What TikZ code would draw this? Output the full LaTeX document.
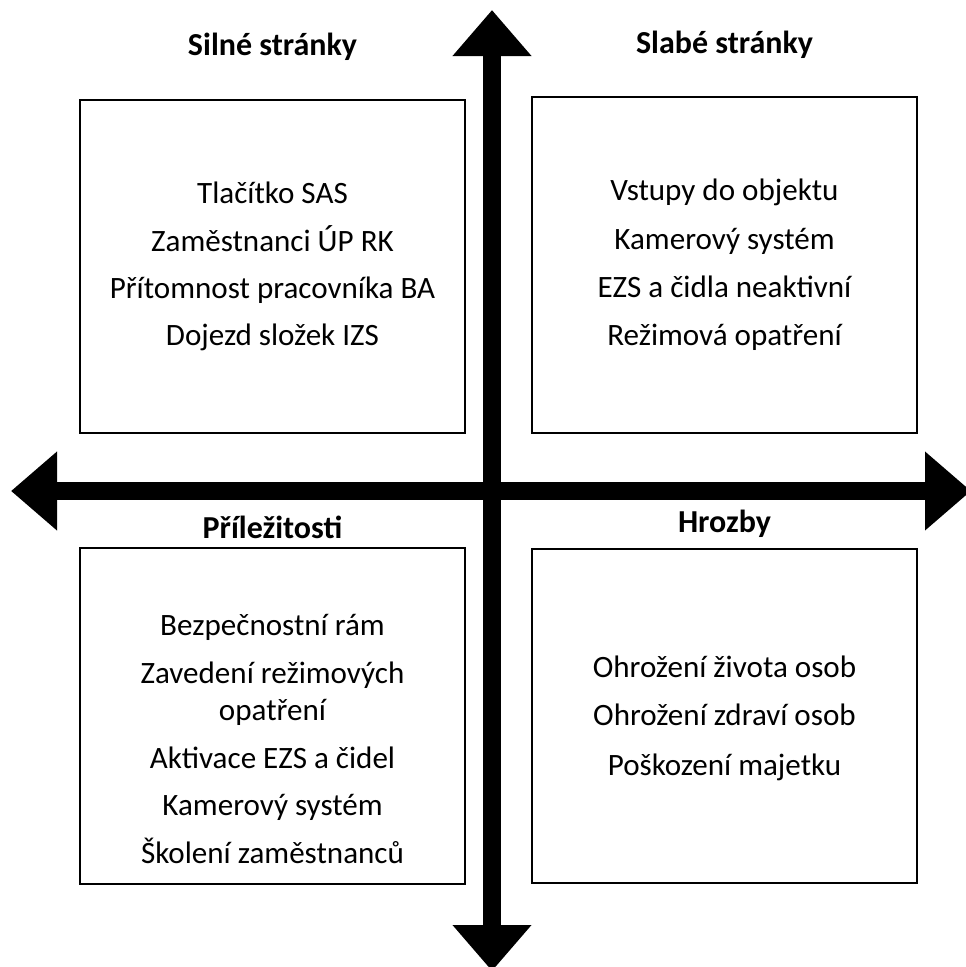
\documentclass[tikz,border=0pt]{standalone}
\usepackage{fontspec}
\setmainfont{Carlito}
\usetikzlibrary{arrows.meta}

\tikzset{
    quadbox/.style={draw, line width=2pt, inner sep=0pt, minimum width=288.75pt},
    head/.style={font=\fontsize{24}{28}\selectfont\bfseries, anchor=base, inner sep=0pt},
    item/.style={font=\fontsize{23.3}{28}\selectfont, anchor=base, inner sep=0pt},
    bigarrow/.style={line width=13.7pt, {Triangle[width=57pt,length=34.5pt]}-{Triangle[width=57pt,length=34.5pt]}}
}

\begin{document}
\begin{tikzpicture}[x=0.75pt,y=0.75pt,yscale=-1,xscale=1]
    \path[use as bounding box] (0,0) rectangle (965,967);

    %Axis end points
    \coordinate (ytop) at (492,10);
    \coordinate (ybot) at (492,971);
    \coordinate (xleft) at (11,491);
    \coordinate (xright) at (971,491);
    %Straight Lines
    \draw [bigarrow] (ytop) -- (ybot);
    \draw [bigarrow] (xleft) -- (xright);

    %Shape: Rectangle
    \node [quadbox, minimum height=249.75pt] (silne) at (272.5,266.5) {};
    %Shape: Rectangle
    \node [quadbox, minimum height=252pt] (slabe) at (724.5,265) {};
    %Shape: Rectangle
    \node [quadbox, minimum height=252pt] (prilez) at (272.5,716) {};
    %Shape: Rectangle
    \node [quadbox, minimum height=250.5pt] (hrozby) at (724.5,716) {};

    % Text Node
    \node [head] (silneT) at (272.5,55) {Silné stránky};
    \node [head] (slabeT) at (724.5,53) {Slabé stránky};
    \node [head] (prilezT) at (272.5,538) {Příležitosti};
    \node [head] (hrozbyT) at (724.5,532) {Hrozby};

    % Text Node
    \node [item] (s1) at (272.5,203) {Tlačítko SAS};
    \node [item] (s2) at (272.5,251) {Zaměstnanci ÚP RK};
    \node [item] (s3) at (272.5,298) {Přítomnost pracovníka BA};
    \node [item] (s4) at (272.5,345) {Dojezd složek IZS};
    % Text Node
    \node [item] (w1) at (724.5,200) {Vstupy do objektu};
    \node [item] (w2) at (724.5,249) {Kamerový systém};
    \node [item] (w3) at (724.5,297) {EZS a čidla neaktivní};
    \node [item] (w4) at (724.5,345) {Režimová opatření};
    % Text Node
    \node [item] (o1) at (272.5,635) {Bezpečnostní rám};
    \node [item] (o2) at (272.5,683) {Zavedení režimových};
    \node [item] (o2b) at (272.5,720) {opatření};
    \node [item] (o3) at (272.5,768) {Aktivace EZS a čidel};
    \node [item] (o4) at (272.5,815) {Kamerový systém};
    \node [item] (o5) at (272.5,863) {Školení zaměstnanců};
    % Text Node
    \node [item] (t1) at (724.5,677) {Ohrožení života osob};
    \node [item] (t2) at (724.5,725) {Ohrožení zdraví osob};
    \node [item] (t3) at (724.5,775) {Poškození majetku};
\end{tikzpicture}
\end{document}
